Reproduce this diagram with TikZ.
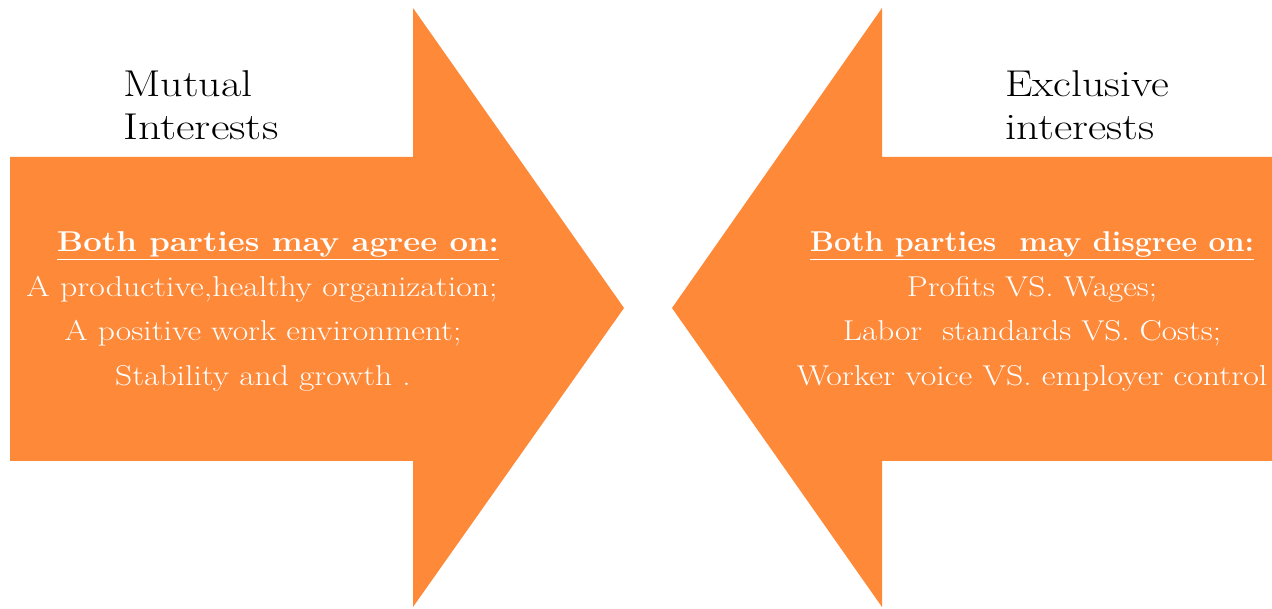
\documentclass[tikz,border=0pt]{standalone}
\usepackage{graphicx}
\newcommand\widetext[2][1.17]{\scalebox{#1}[1]{#2}}
\begin{document}
\definecolor{arroworange}{RGB}{253,137,57}
\begin{tikzpicture}[x=0.75pt,y=-0.75pt,
  bigarrow/.style={fill=arroworange,draw=none},
  title/.style={anchor=base west,inner sep=0pt,font=\fontsize{28}{32}\selectfont,text=black},
  line/.style={anchor=base,inner sep=0pt,font=\fontsize{21.5}{26}\selectfont,text=white}]
  \useasboundingbox (0,0) rectangle (1272,609);
  % right-pointing block arrow
  \path[bigarrow] (10,157) -- (413,157) -- (413,8) -- (624,308) -- (413,607)
    -- (413,461) -- (10,461) -- cycle;
  % left-pointing block arrow
  \path[bigarrow] (1272,157) -- (882,157) -- (882,8) -- (672,308) -- (882,607)
    -- (882,461) -- (1272,461) -- cycle;
  % headings
  \node[title] (mutual) at (123,97) {\widetext[1.18]{Mutual}};
  \node[title] (mutualb) at (123,140) {\widetext[1.22]{Interests}};
  \node[title] (excl) at (1005,97) {\widetext[1.17]{Exclusive}};
  \node[title] (exclb) at (1005,140) {\widetext[1.2]{interests}};
  % left arrow text
  \node[line] (la) at (278,252) {\widetext[1.15]{\underline{\textbf{Both parties may agree on:}}}};
  \node[line] (lb) at (262,297) {\widetext[1.18]{A productive,healthy organization;}};
  \node[line] (lc) at (263,341) {\widetext{A positive work environment;}};
  \node[line] (ld) at (263,386) {\widetext{Stability and growth .}};
  % right arrow text
  \node[line] (ra) at (1032,252) {\widetext[1.06]{\underline{\textbf{Both parties\ \ may disgree on:}}}};
  \node[line] (rb) at (1032,297) {\widetext[1.16]{Profits VS. Wages;}};
  \node[line] (rc) at (1032,341) {\widetext[1.16]{Labor\ \ standards VS. Costs;}};
  \node[line] (rd) at (1032,386) {\widetext[1.18]{Worker voice VS. employer control}};
\end{tikzpicture}
\end{document}
